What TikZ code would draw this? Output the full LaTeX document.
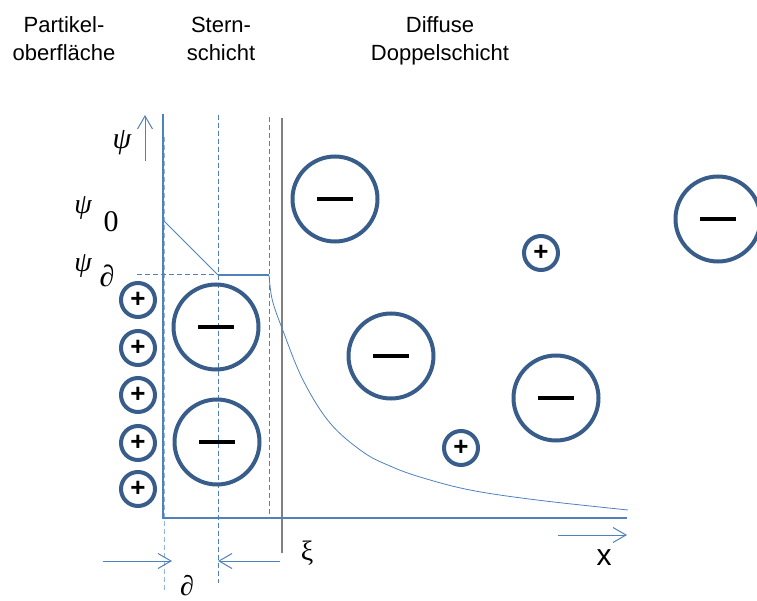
\documentclass[tikz,border=0pt]{standalone}
\usepackage{fontspec}
\setmainfont{Liberation Sans}
\newfontfamily\formelfont{Liberation Serif}
\usetikzlibrary{arrows.meta}
\definecolor{linieblau}{RGB}{79,129,189}
\definecolor{ionblau}{RGB}{56,93,138}
\definecolor{hellblau}{RGB}{149,179,215}
\definecolor{scherebene}{RGB}{128,128,128}
\newcommand{\minusbar}{\rule{36pt}{3.3pt}}

\begin{document}
\begin{tikzpicture}[x=1pt, y=-1pt,
		linie/.style={draw=linieblau, line width=1.2pt},
		hilfslinie/.style={draw=linieblau, line width=1pt, dash pattern=on 5pt off 3pt},
		pfeil/.style={draw=linieblau, line width=1pt, -{Straight Barb[length=13pt, width=15pt]}},
		anion/.style={circle, draw=ionblau, line width=4pt, minimum size=85pt, inner sep=0pt},
		kation/.style={circle, draw=ionblau, line width=4pt, minimum size=34pt, inner sep=0pt, font=\fontsize{26}{26}\selectfont\bfseries},
		schicht/.style={font=\fontsize{22}{28}\selectfont, align=center},
		formel/.style={font=\formelfont\fontsize{28}{28}\selectfont, inner sep=0pt}]
	\useasboundingbox (0,0) rectangle (757,601);
	\clip (0,0) rectangle (757,601);

	% Ueberschriften
	\node[schicht] (partikel) at (64,39) {Partikel-\\oberfläche};
	\node[schicht] (stern) at (221,39) {Stern-\\schicht};
	\node[schicht] (diffus) at (440,41) {Diffuse\\Doppelschicht};

	% Koordinaten
	\coordinate (ursprung) at (163,518);
	\coordinate (oben) at (163,114);
	\coordinate (xende) at (627,518);
	\coordinate (psinull) at (163,220);
	\coordinate (knick) at (218,275);
	\coordinate (sternende) at (269,275);

	% Hilfslinien
	\draw[hilfslinie, draw=hellblau] (164,137) -- (164,590);
	\draw[hilfslinie] (218,115) -- (218,583);
	\draw[hilfslinie] (269,117) -- (269,518);
	\draw[hilfslinie] (137,275) -- (knick);
	\draw[draw=scherebene, line width=2pt] (282,118) -- (282,553);

	% Achsen und Potentialverlauf
	\draw[linie] (oben) -- (ursprung) -- (xende);
	\draw[draw=linieblau, line width=0.8pt] (psinull) -- (knick);
	\draw[draw=linieblau, line width=2pt] (knick) -- (sternende);
	\draw[draw=linieblau, line width=0.8pt] plot[smooth, tension=0.6] coordinates {(sternende) (272.3,300) (282.7,330) (303,380) (330,423) (363,452) (390,466) (420,477) (470,490) (537,500) (628,510)};

	% Pfeile
	\draw[pfeil] (145,161) -- (145,115);
	\draw[pfeil] (558,535) -- (627,535);
	\draw[pfeil] (103,561) -- (172,561);
	\draw[pfeil] (280,561) -- (218,561);

	% Beschriftungen
	\node[formel, font=\formelfont\itshape\fontsize{30}{30}\selectfont] (psi) at (122,143) {ψ};
	\node[formel, font=\formelfont\itshape\fontsize{28}{28}\selectfont] (psia) at (83,208) {ψ};
	\node[formel, font=\formelfont\fontsize{30}{30}\selectfont] (null) at (111,222) {0};
	\node[formel, font=\formelfont\itshape\fontsize{28}{28}\selectfont] (psib) at (83,266) {ψ};
	\node[formel, font=\formelfont\fontsize{30}{30}\selectfont] (delta) at (107,276) {∂};
	\node[formel] (xi) at (307,553) {ξ};
	\node[formel, font=\formelfont\fontsize{28}{28}\selectfont] (deltaunten) at (187,586) {∂};
	\node[formel, font=\fontsize{30}{30}\selectfont] (x) at (604,558) {x};

	% Kationen an der Oberflaeche
	\foreach \y [count=\i] in {300,348,395,443,489}
		\node[kation] (k\i) at (138,\y) {+};
	\node[kation] (k6) at (541,253) {+};
	\node[kation] (k7) at (461,448) {+};

	% Anionen
	\node[anion] (a1) at (216,327) {\minusbar};
	\node[anion] (a2) at (217,442) {\minusbar};
	\node[anion] (a3) at (335,199) {\minusbar};
	\node[anion] (a4) at (391,356) {\minusbar};
	\node[anion] (a5) at (556,398) {\minusbar};
	\node[anion] (a6) at (718,219) {\minusbar};
\end{tikzpicture}
\end{document}
